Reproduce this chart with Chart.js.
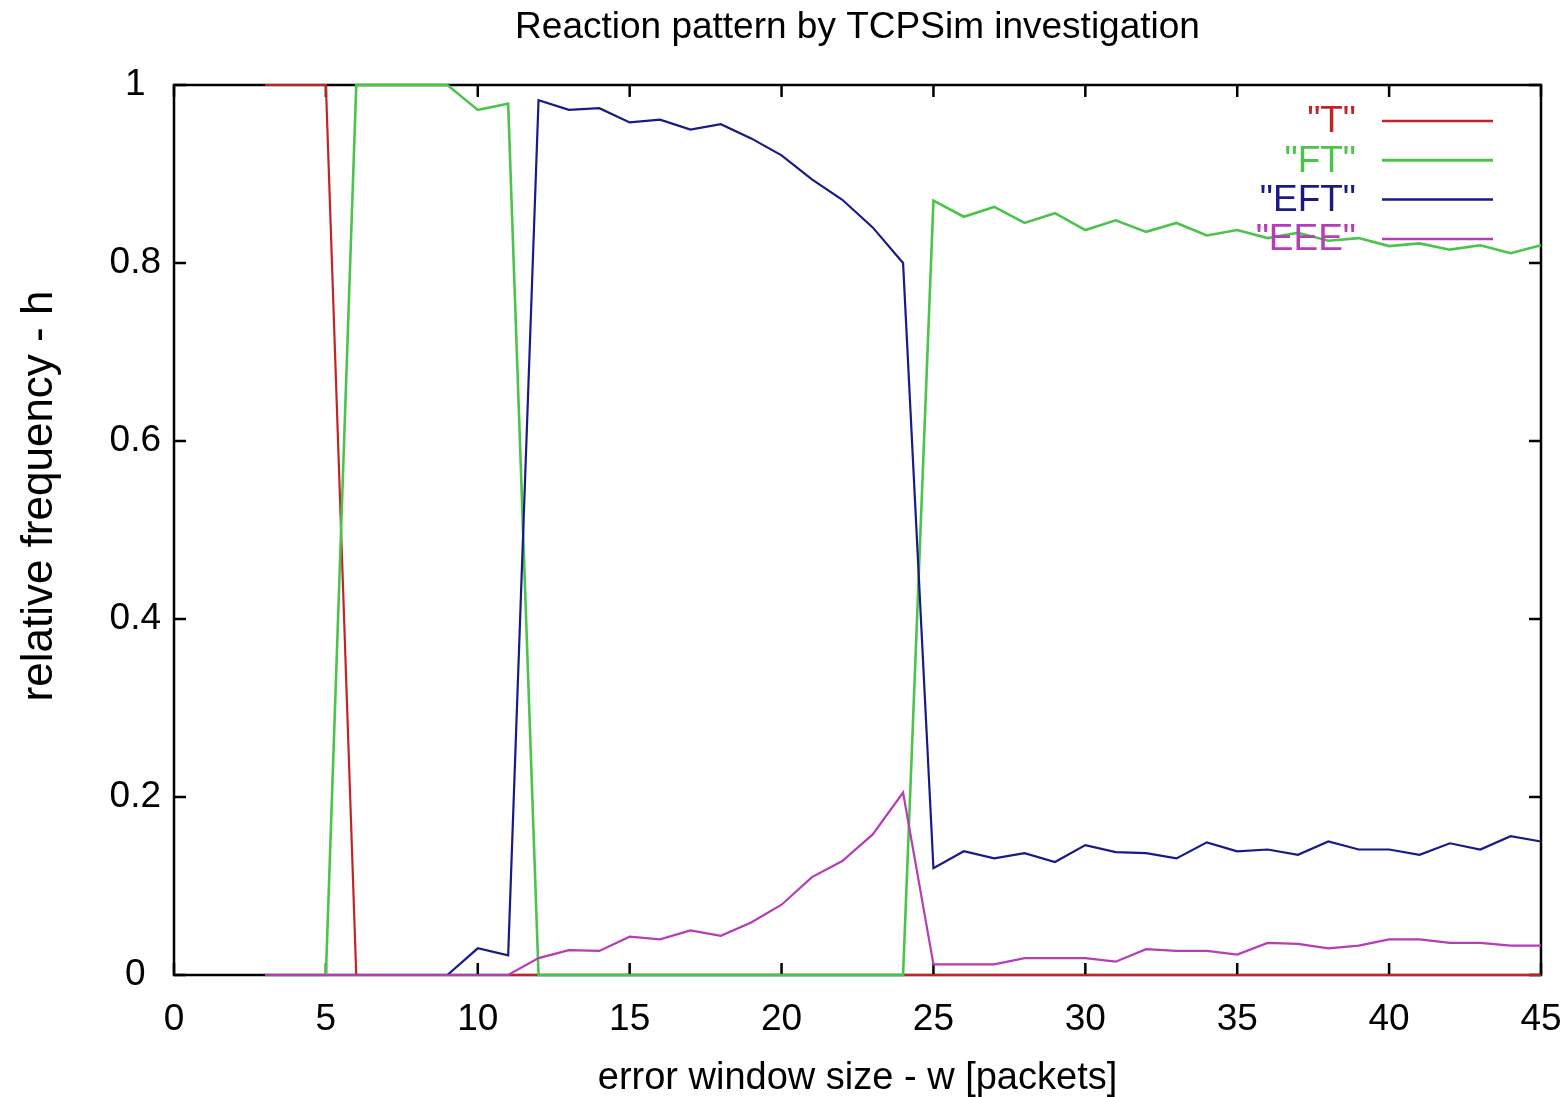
<!DOCTYPE html>
<html>
<head>
<meta charset="utf-8">
<script src="https://cdn.jsdelivr.net/npm/chart.js@4.4.1/dist/chart.umd.min.js"></script>
<style>
html,body{margin:0;padding:0;background:#fff;}
#wrap{width:1566px;height:1097px;}
</style>
</head>
<body>
<div id="wrap"><canvas id="c" width="1566" height="1097"></canvas></div>
<script>
// ---- data ----
const xValues = [3,4,5,6,7,8,9,10,11,12,13,14,15,16,17,18,19,20,21,22,23,24,25,26,27,28,29,30,31,32,33,34,35,36,37,38,39,40,41,42,43,44,45];
const seriesT   = [1,1,1,0,0,0,0,0,0,0,0,0,0,0,0,0,0,0,0,0,0,0,0,0,0,0,0,0,0,0,0,0,0,0,0,0,0,0,0,0,0,0,0];
const seriesFT  = [0,0,0,1,1,1,1,0.972,0.979,0,0,0,0,0,0,0,0,0,0,0,0,0,0.870,0.852,0.863,0.845,0.856,0.837,0.848,0.835,0.845,0.831,0.837,0.828,0.834,0.825,0.828,0.819,0.822,0.815,0.820,0.811,0.820];
const seriesEFT = [0,0,0,0,0,0,0,0.030,0.022,0.983,0.972,0.974,0.958,0.961,0.950,0.956,0.940,0.921,0.894,0.871,0.840,0.800,0.120,0.139,0.131,0.137,0.127,0.146,0.138,0.137,0.131,0.149,0.139,0.141,0.135,0.150,0.141,0.141,0.135,0.148,0.141,0.156,0.150];
const seriesEEE = [0,0,0,0,0,0,0,0,0,0.019,0.028,0.027,0.043,0.040,0.050,0.044,0.059,0.079,0.110,0.128,0.158,0.205,0.012,0.012,0.012,0.019,0.019,0.019,0.015,0.029,0.027,0.027,0.023,0.036,0.035,0.030,0.033,0.040,0.040,0.036,0.036,0.033,0.033];
const seriesNames = ['"T"', '"FT"', '"EFT"', '"EEE"'];
const xTicks = [0,5,10,15,20,25,30,35,40,45];
const yTicks = [0,0.2,0.4,0.6,0.8,1];
const yTickLabels = ['0','0.2','0.4','0.6','0.8','1'];
const chartTitle = 'Reaction pattern by TCPSim investigation';
const xTitle = 'error window size - w [packets]';
const yTitle = 'relative frequency - h';

// ---- styles ----
const colors = ['#c42326', '#4cc44c', '#1a1a86', '#b53db5'];
const FONT = '"Liberation Sans", Arial, sans-serif';

function pts(ys) { return xValues.map((x, i) => ({x: x, y: ys[i]})); }
const allSeries = [seriesT, seriesFT, seriesEFT, seriesEEE];

const datasets = allSeries.map((s, i) => ({
  label: seriesNames[i],
  data: pts(s),
  showLine: true,
  borderColor: colors[i],
  backgroundColor: colors[i],
  borderWidth: i === 1 ? 2.6 : 2.2,
  pointRadius: 0,
  tension: 0,
  fill: false,
  clip: false,
  order: 4 - i
}));

const framePlugin = {
  id: 'frame',
  beforeDatasetsDraw(chart) {
    const {ctx, chartArea: a, scales: {x, y}} = chart;
    ctx.save();
    ctx.strokeStyle = '#000';
    ctx.lineWidth = 2.5;
    ctx.strokeRect(a.left, a.top, a.right - a.left, a.bottom - a.top);
    const L = 12;
    ctx.beginPath();
    xTicks.forEach(v => {
      const px = x.getPixelForValue(v);
      ctx.moveTo(px, a.bottom); ctx.lineTo(px, a.bottom - L);
      ctx.moveTo(px, a.top); ctx.lineTo(px, a.top + L);
    });
    yTicks.forEach(v => {
      const py = y.getPixelForValue(v);
      ctx.moveTo(a.left, py); ctx.lineTo(a.left + L, py);
      ctx.moveTo(a.right, py); ctx.lineTo(a.right - L, py);
    });
    ctx.stroke();
    // chart title centred over the plot area
    ctx.fillStyle = '#000';
    ctx.font = '37px ' + FONT;
    ctx.textAlign = 'center';
    ctx.textBaseline = 'middle';
    ctx.fillText(chartTitle, (a.left + a.right) / 2, 28);
    ctx.restore();
  },
  afterDatasetsDraw(chart) {
    const {ctx} = chart;
    ctx.save();
    // legend (gnuplot style: label right-aligned, sample line to its right)
    ctx.font = '37px ' + FONT;
    ctx.textAlign = 'right';
    ctx.textBaseline = 'middle';
    seriesNames.forEach((n, i) => {
      const yy = 121 + i * 39.3;
      ctx.fillStyle = colors[i];
      ctx.fillText(n, 1356, yy + 1);
      ctx.strokeStyle = colors[i];
      ctx.lineWidth = i === 1 ? 3 : 2.5;
      ctx.beginPath();
      ctx.moveTo(1382, yy); ctx.lineTo(1493, yy);
      ctx.stroke();
    });
    // y axis title
    ctx.fillStyle = '#000';
    ctx.font = '44px ' + FONT;
    ctx.textAlign = 'center';
    ctx.textBaseline = 'middle';
    ctx.translate(40, 496);
    ctx.rotate(-Math.PI / 2);
    ctx.fillText(yTitle, 0, 0);
    ctx.restore();
  }
};

new Chart(document.getElementById('c'), {
  type: 'scatter',
  data: { datasets: datasets },
  options: {
    responsive: false,
    animation: false,
    events: [],
    layout: { padding: { left: 0, right: 25, top: 85, bottom: 0 } },
    plugins: {
      legend: { display: false },
      tooltip: { enabled: false },
      title: { display: false }
    },
    scales: {
      x: {
        type: 'linear',
        min: 0, max: 45,
        afterBuildTicks: s => { s.ticks = xTicks.map(v => ({value: v})); },
        afterFit: s => { s.height = 122; s.paddingLeft = 0; s.paddingRight = 0; },
        grid: { display: false, drawTicks: false },
        border: { display: false },
        ticks: {
          color: '#000',
          font: { family: FONT, size: 37 },
          padding: 23,
          maxRotation: 0,
          autoSkip: false
        },
        title: {
          display: true,
          text: xTitle,
          color: '#000',
          font: { family: FONT, size: 38, lineHeight: 0.95 },
          padding: { top: 0, bottom: 0 }
        }
      },
      y: {
        type: 'linear',
        min: 0, max: 1,
        afterBuildTicks: s => { s.ticks = yTicks.map(v => ({value: v})); },
        afterFit: s => { s.width = 174; s.paddingTop = 0; s.paddingBottom = 0; },
        grid: { display: false, drawTicks: false },
        border: { display: false },
        ticks: {
          color: '#000',
          font: { family: FONT, size: 37 },
          padding: 13,
          crossAlign: 'center',
          callback: (v) => { const k = yTicks.indexOf(v); return k >= 0 ? yTickLabels[k] : ''; }
        }
      }
    }
  },
  plugins: [framePlugin]
});
</script>
</body>
</html>
